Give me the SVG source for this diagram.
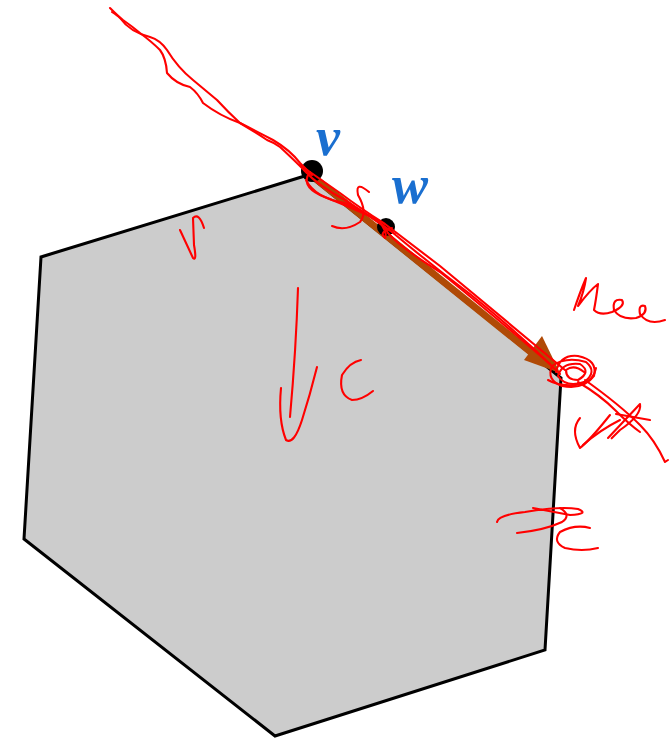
<svg xmlns="http://www.w3.org/2000/svg" width="670" height="739" viewBox="0 0 670 739">
<style>
.ink{fill:none;stroke:#ff0000;stroke-width:2.1;stroke-linecap:round;stroke-linejoin:round}
.lbl{font-family:"Liberation Serif","DejaVu Serif",serif;font-weight:bold;font-style:italic;fill:#1a6fd0;font-size:54px}
</style>
<rect width="670" height="739" fill="#ffffff"/>
<g id="polygon">
<polygon points="308,175 561,378 545,650 275,736 24,539 41,257" fill="#cccccc" stroke="#000000" stroke-width="3" stroke-linejoin="miter"/>
</g>
<g id="connectors">
<line x1="311" y1="175" x2="543" y2="362" stroke="#b04a06" stroke-width="7" stroke-linecap="round"/>
<polygon points="560,373 524,360 542,336" fill="#b04a06"/>
</g>
<g id="node-v">
<circle cx="312" cy="171" r="11" fill="#000000"/>
<text class="lbl" x="316" y="155">v</text>
</g>
<g id="node-w">
<circle cx="386" cy="227" r="9" fill="#000000"/>
<text class="lbl" x="392" y="203">w</text>
</g>
<g id="ink">
<path class="ink" d="M110,8 Q118,16 123,20 Q133,27 140,33 Q152,42 160,50 Q166,58 167,73 Q176,84 190,87 Q198,93 203,103 Q220,116 240,123 Q260,133 273,140 Q290,150 300,163 L312,175"/>
<path class="ink" d="M112,12 Q118,16 120,18 Q130,32 150,37 Q160,40 167,50 Q178,68 193,80 Q205,90 217,100 Q228,112 240,123 Q255,132 267,140 Q275,143 280,147 Q292,158 307,173"/>
<path class="ink" d="M300,165 L340,193 Q360,208 385,224 L440,266 Q500,316 565,370"/>
<path class="ink" d="M304,170 Q318,186 345,200 Q370,216 392,232 Q430,264 470,294 Q520,334 560,374"/>
<path class="ink" d="M310,172 Q300,185 320,195 Q345,205 372,217 Q385,225 388,233 Q400,247 440,272 Q480,304 550,364"/>
<path class="ink" d="M306,180 Q315,198 345,203 Q358,208 375,220 L395,234"/>
<path class="ink" d="M369,192 Q355,180 358,195 Q368,212 360,222 Q345,232 332,226"/>
<path class="ink" d="M378,220 Q388,232 385,238 Q378,232 392,228"/>
<path class="ink" d="M556,372 Q560,354 578,356 Q598,360 594,376 Q584,390 562,386 Q546,380 552,366 Q566,356 586,362 Q598,372 584,382 Q566,388 558,376 Q562,362 580,364 Q592,372 578,380 Q566,380 566,370 Q574,364 584,372"/>
<path class="ink" d="M548,380 Q562,388 582,384 Q594,380 596,368"/>
<path class="ink" d="M585,380 Q620,405 640,425 Q655,440 665,462 L668,460"/>
<path class="ink" d="M578,382 Q600,395 615,410 Q630,425 640,432"/>
<path class="ink" d="M180,230 L193,258 Q197,262 194,245 L193,218 Q199,212 204,228"/>
<path class="ink" d="M298,288 Q296,350 290,417"/>
<path class="ink" d="M281,388 Q278,420 286,440 Q294,445 302,420 Q310,395 317,367"/>
<path class="ink" d="M361,360 Q350,362 342,375 Q338,395 352,400 Q362,400 373,391"/>
<path class="ink" d="M574,310 Q580,292 586,278 Q584,292 578,306 Q590,290 598,284 Q596,300 594,310 Q600,316 612,312 Q626,306 622,300 Q612,298 614,310 Q620,320 636,318 Q648,314 645,306 Q638,304 640,314 Q648,326 665,320"/>
<path class="ink" d="M580,418 Q570,430 580,448 Q590,440 610,415"/>
<path class="ink" d="M583,445 Q600,430 620,420"/>
<path class="ink" d="M608,438 Q625,420 640,404 Q642,415 620,430 Q610,440 612,438"/>
<path class="ink" d="M616,414 L650,420"/>
<path class="ink" d="M497,522 Q498,515 525,512 Q560,506 578,509 Q590,514 570,515 L533,508"/>
<path class="ink" d="M517,533 Q545,530 562,522 Q572,515 560,508"/>
<path class="ink" d="M590,528 Q575,524 560,532 Q552,542 565,548 Q582,552 598,548"/>
</g>
</svg>
